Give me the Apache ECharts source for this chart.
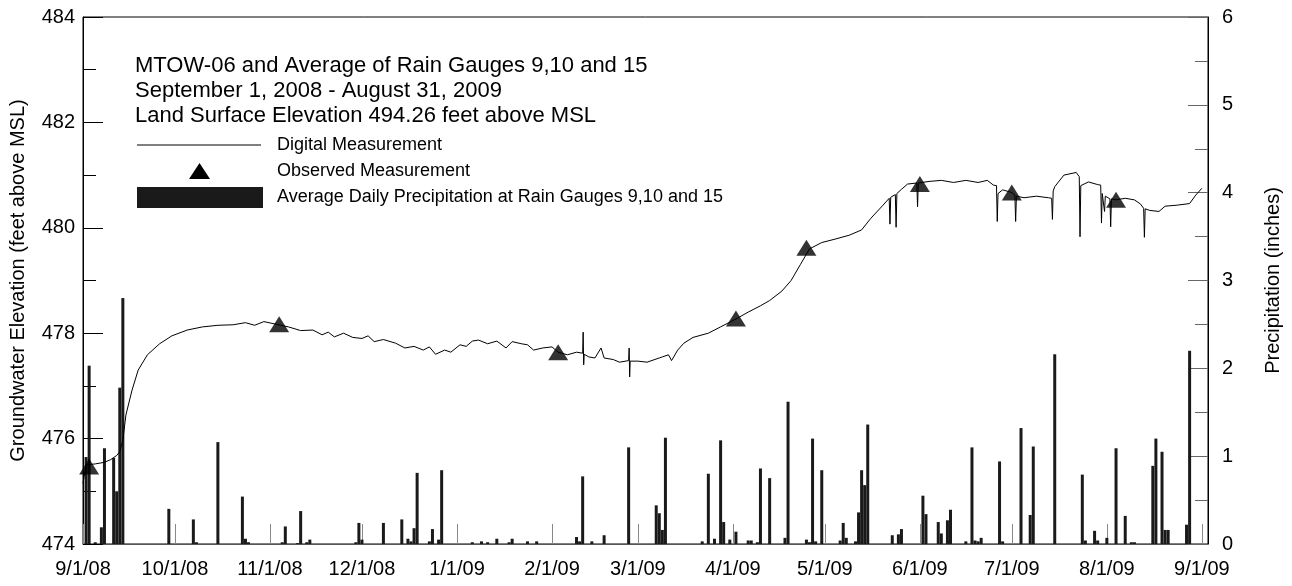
<!DOCTYPE html>
<html>
<head>
<meta charset="utf-8">
<script src="https://cdn.jsdelivr.net/npm/echarts@6/dist/echarts.min.js"></script>
<style>
html,body{margin:0;padding:0;background:#fff;}
#c{width:1292px;height:586px;}
</style>
</head>
<body>
<div id="c"></div>
<script>
// ---- Data ----
const monthTicks = ['2008-09-01','2008-10-01','2008-11-01','2008-12-01','2009-01-01','2009-02-01','2009-03-01','2009-04-01','2009-05-01','2009-06-01','2009-07-01','2009-08-01','2009-09-01'];

const digitalDates = ['2008-09-01','2008-09-02','2008-09-05','2008-09-08','2008-09-10','2008-09-12','2008-09-13','2008-09-14','2008-09-15','2008-09-17','2008-09-19','2008-09-22','2008-09-26','2008-09-30','2008-10-05','2008-10-10','2008-10-15','2008-10-20','2008-10-24','2008-10-27','2008-10-30','2008-11-03','2008-11-07','2008-11-11','2008-11-15','2008-11-18','2008-11-20','2008-11-22','2008-11-25','2008-11-28','2008-12-01','2008-12-03','2008-12-05','2008-12-08','2008-12-12','2008-12-15','2008-12-18','2008-12-21','2008-12-23','2008-12-25','2008-12-28','2008-12-30','2009-01-02','2009-01-04','2009-01-06','2009-01-08','2009-01-11','2009-01-14','2009-01-17','2009-01-19','2009-01-22','2009-01-24','2009-01-26','2009-01-29','2009-02-01','2009-02-03','2009-02-06','2009-02-09','2009-02-11T00:00','2009-02-11T04:00','2009-02-11T08:00','2009-02-11T12:00','2009-02-13','2009-02-15','2009-02-17','2009-02-18','2009-02-21','2009-02-23','2009-02-26T00:00','2009-02-26T04:00','2009-02-26T08:00','2009-02-26T12:00','2009-03-01','2009-03-04','2009-03-08','2009-03-09','2009-03-11','2009-03-12','2009-03-14','2009-03-16','2009-03-19','2009-03-24','2009-03-28','2009-04-02','2009-04-06','2009-04-10','2009-04-13','2009-04-17','2009-04-20','2009-04-23','2009-04-26','2009-04-30','2009-05-04','2009-05-09','2009-05-13','2009-05-16','2009-05-20','2009-05-22T00:00','2009-05-22T06:00','2009-05-22T12:00','2009-05-24T00:00','2009-05-24T06:00','2009-05-24T12:00','2009-05-26','2009-05-28','2009-05-31T00:00','2009-05-31T06:00','2009-05-31T12:00','2009-06-04','2009-06-08','2009-06-12','2009-06-16','2009-06-20','2009-06-23','2009-06-25','2009-06-26T00:00','2009-06-26T06:00','2009-06-26T12:00','2009-06-28','2009-07-01','2009-07-02T00:00','2009-07-02T06:00','2009-07-02T12:00','2009-07-05','2009-07-09','2009-07-13','2009-07-14T00:00','2009-07-14T06:00','2009-07-14T12:00','2009-07-15','2009-07-18','2009-07-22','2009-07-23T00:00','2009-07-23T06:00','2009-07-23T12:00','2009-07-26','2009-07-29','2009-07-30T00:00','2009-07-30T06:00','2009-07-30T12:00','2009-07-31T00:00','2009-07-31T06:00','2009-07-31T12:00','2009-08-02T00:00','2009-08-02T06:00','2009-08-02T12:00','2009-08-04','2009-08-07','2009-08-10','2009-08-12','2009-08-13T00:00','2009-08-13T06:00','2009-08-13T12:00','2009-08-15','2009-08-18','2009-08-20','2009-08-24','2009-08-28','2009-08-30','2009-09-01'];
const digitalValues = [475.15,475.50,475.52,475.55,475.60,475.68,475.75,475.97,476.45,476.92,477.30,477.59,477.80,477.95,478.06,478.12,478.15,478.16,478.20,478.15,478.22,478.17,478.12,478.05,478.06,477.97,478.02,477.93,478.00,477.92,477.90,477.95,477.84,477.88,477.81,477.72,477.75,477.68,477.74,477.60,477.68,477.64,477.78,477.75,477.85,477.87,477.80,477.85,477.72,477.84,477.80,477.78,477.68,477.72,477.74,477.64,477.59,477.64,477.62,478.02,477.40,477.60,477.55,477.53,477.72,477.53,477.50,477.45,477.48,477.72,477.17,477.47,477.47,477.45,477.53,477.55,477.59,477.48,477.68,477.81,477.92,478.00,478.12,478.27,478.40,478.52,478.62,478.80,479.00,479.30,479.60,479.72,479.78,479.86,479.96,480.18,480.43,480.56,480.07,480.58,480.63,480.01,480.65,480.73,480.83,480.85,480.40,480.85,480.88,480.90,480.86,480.90,480.86,480.90,480.81,480.80,480.12,480.65,480.72,480.67,480.62,480.12,480.60,480.57,480.60,480.57,480.56,480.16,480.70,480.78,481.00,481.05,480.97,479.83,480.80,480.87,480.82,480.81,480.09,480.65,480.62,480.31,480.60,480.55,480.02,480.55,480.53,480.56,480.53,480.45,480.37,479.82,480.36,480.33,480.31,480.41,480.43,480.46,480.62,480.75];

const observedDates = ['2008-09-03','2008-11-04','2009-02-03','2009-04-02','2009-04-25','2009-06-01','2009-07-01','2009-08-04'];
const observedValues = [475.47,478.17,477.64,478.28,479.62,480.83,480.67,480.53];

const precipDates = ['2008-09-02','2008-09-03','2008-09-05','2008-09-07','2008-09-08','2008-09-11','2008-09-12','2008-09-13','2008-09-14','2008-09-29','2008-10-07','2008-10-08','2008-10-15','2008-10-23','2008-10-24','2008-10-25','2008-11-05','2008-11-06','2008-11-10','2008-11-11','2008-11-13','2008-11-14','2008-11-29','2008-11-30','2008-12-01','2008-12-08','2008-12-14','2008-12-16','2008-12-17','2008-12-18','2008-12-19','2008-12-23','2008-12-24','2008-12-26','2008-12-27','2009-01-06','2009-01-09','2009-01-11','2009-01-14','2009-01-18','2009-01-19','2009-01-24','2009-01-27','2009-02-09','2009-02-10','2009-02-11','2009-02-14','2009-02-18','2009-02-26','2009-03-07','2009-03-08','2009-03-09','2009-03-10','2009-03-22','2009-03-24','2009-03-26','2009-03-28','2009-03-29','2009-03-31','2009-04-02','2009-04-06','2009-04-07','2009-04-09','2009-04-10','2009-04-13','2009-04-18','2009-04-19','2009-04-25','2009-04-26','2009-04-27','2009-04-28','2009-04-30','2009-05-06','2009-05-07','2009-05-08','2009-05-11','2009-05-12','2009-05-13','2009-05-14','2009-05-15','2009-05-23','2009-05-25','2009-05-26','2009-06-02','2009-06-03','2009-06-07','2009-06-08','2009-06-10','2009-06-11','2009-06-16','2009-06-18','2009-06-19','2009-06-20','2009-06-21','2009-06-27','2009-06-28','2009-07-04','2009-07-07','2009-07-08','2009-07-15','2009-07-24','2009-07-25','2009-07-28','2009-07-29','2009-08-01','2009-08-04','2009-08-07','2009-08-09','2009-08-10','2009-08-16','2009-08-17','2009-08-19','2009-08-20','2009-08-21','2009-08-27','2009-08-28'];
const precipValues = [0.99,2.03,0.02,0.19,1.09,0.98,0.60,1.78,2.80,0.40,0.28,0.02,1.16,0.54,0.06,0.02,0.02,0.20,0.01,0.375,0.02,0.05,0.02,0.24,0.05,0.24,0.28,0.06,0.03,0.18,0.81,0.03,0.17,0.05,0.84,0.02,0.03,0.02,0.06,0.02,0.06,0.03,0.03,0.08,0.03,0.77,0.03,0.10,1.10,0.44,0.35,0.16,1.21,0.03,0.80,0.06,1.18,0.25,0.05,0.14,0.04,0.04,0.02,0.86,0.75,0.07,1.62,0.05,0.02,1.20,0.03,0.84,0.04,0.24,0.07,0.03,0.36,0.84,0.67,1.36,0.10,0.11,0.17,0.55,0.34,0.25,0.12,0.27,0.39,0.03,1.10,0.04,0.03,0.07,0.94,0.03,1.32,0.33,1.11,2.16,0.79,0.04,0.15,0.04,0.07,1.09,0.32,0.02,0.02,0.89,1.20,1.05,0.16,0.16,0.22,2.20];

const titleLines = ['MTOW-06 and Average of Rain Gauges 9,10 and 15','September 1, 2008 - August 31, 2009','Land Surface Elevation 494.26 feet above MSL'];
const legendLabels = ['Digital Measurement','Observed Measurement','Average Daily Precipitation at Rain Gauges 9,10 and 15'];

// ---- Chart ----
const FONT = '"Liberation Sans", Arial, Helvetica, sans-serif';
function ts(s){ return new Date(s.length === 10 ? s + 'T00:00:00' : s + ':00').getTime(); }
const zip = (d, v) => d.map((x, i) => [ts(x), v[i]]);
const tickVals = monthTicks.map(ts);

const chart = echarts.init(document.getElementById('c'), null, {renderer: 'canvas'});

const graphics = [];
titleLines.forEach((t, i) => {
  graphics.push({type: 'text', left: 135, top: 55 + i * 25,
    style: {text: t, font: '22px ' + FONT, fill: '#000'}});
});
graphics.push({type: 'line', shape: {x1: 137, y1: 145, x2: 261, y2: 145}, style: {stroke: '#000', lineWidth: 1}});
graphics.push({type: 'polygon', shape: {points: [[199.5, 163], [189, 179], [210, 179]]}, style: {fill: '#000'}});
graphics.push({type: 'rect', shape: {x: 137, y: 187, width: 126, height: 21}, style: {fill: '#1a1a1a'}});
legendLabels.forEach((t, i) => {
  graphics.push({type: 'text', left: 277, top: 136 + i * 26,
    style: {text: t, font: '18px ' + FONT, fill: '#000'}});
});

chart.setOption({
  animation: false,
  backgroundColor: '#fff',
  textStyle: {fontFamily: FONT},
  grid: {left: 82, right: 84, top: 17, bottom: 42, show: true, borderColor: '#000', borderWidth: 1, containLabel: false},
  xAxis: {
    type: 'value',
    min: ts('2008-09-01'),
    max: ts('2009-09-03'),
    axisLine: {show: true, onZero: false, lineStyle: {color: '#555', width: 1}},
    axisTick: {show: true, inside: true, length: 20, customValues: tickVals, lineStyle: {color: '#888', width: 1}},
    splitLine: {show: false},
    axisLabel: {
      customValues: tickVals,
      margin: 15,
      fontSize: 20, color: '#000', fontFamily: FONT,
      formatter: function (v) { const d = new Date(v); return (d.getMonth() + 1) + '/' + d.getDate() + '/' + String(d.getFullYear()).slice(2); }
    }
  },
  yAxis: [{
    type: 'value', min: 474, max: 484, interval: 2,
    name: 'Groundwater Elevation (feet above MSL)', nameLocation: 'middle', nameGap: 55, nameRotate: 90,
    nameTextStyle: {fontSize: 20, color: '#000', fontFamily: FONT},
    axisLine: {show: true, lineStyle: {color: '#000'}},
    axisTick: {show: true, inside: true, length: 20, lineStyle: {color: '#000'}},
    minorTick: {show: true, splitNumber: 2, length: 13, lineStyle: {color: '#000'}},
    splitLine: {show: false},
    axisLabel: {fontSize: 20, color: '#000', margin: 8, fontFamily: FONT}
  }, {
    type: 'value', min: 0, max: 6, interval: 1, position: 'right',
    name: 'Precipitation (inches)', nameLocation: 'middle', nameGap: 55, nameRotate: 90,
    nameTextStyle: {fontSize: 20, color: '#000', fontFamily: FONT},
    axisLine: {show: true, lineStyle: {color: '#000'}},
    axisTick: {show: true, inside: true, length: 20, lineStyle: {color: '#666'}},
    minorTick: {show: true, splitNumber: 2, length: 13, lineStyle: {color: '#666'}},
    splitLine: {show: false},
    axisLabel: {fontSize: 20, color: '#000', margin: 14, fontFamily: FONT}
  }],
  graphic: graphics,
  series: [{
    name: legendLabels[2], type: 'bar', yAxisIndex: 1,
    data: zip(precipDates, precipValues),
    barWidth: 3,
    itemStyle: {color: '#1a1a1a'}, silent: true
  }, {
    name: legendLabels[0], type: 'line', yAxisIndex: 0,
    data: zip(digitalDates, digitalValues),
    showSymbol: false, symbol: 'none',
    lineStyle: {color: '#000', width: 1}, silent: true
  }, {
    name: legendLabels[1], type: 'scatter', yAxisIndex: 0,
    data: zip(observedDates, observedValues),
    symbol: 'triangle', symbolSize: [20, 16],
    itemStyle: {color: '#000'}, silent: true
  }]
});
</script>
</body>
</html>
